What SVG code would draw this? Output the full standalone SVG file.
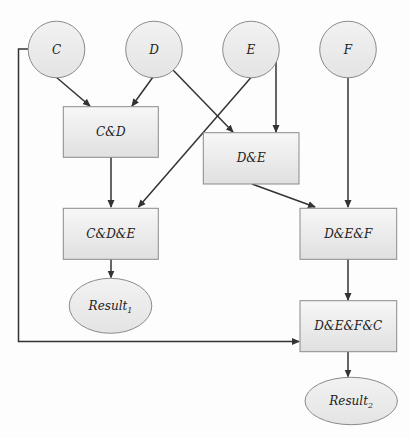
<svg xmlns="http://www.w3.org/2000/svg" width="410" height="438" viewBox="0 0 410 438">
<style>
.n{stroke:#8a8a8a;stroke-width:1}
.c{fill:url(#gc)}
.b{fill:url(#gb)}
text{font-family:'DejaVu Serif',serif;font-style:italic;font-size:12px;fill:#222;text-anchor:middle}
.e{fill:none;stroke:#333;stroke-width:1.5;marker-end:url(#ah)}
</style>
<defs>
<linearGradient id="gc" x1="0" y1="0" x2="0" y2="1"><stop offset="0" stop-color="#f2f2f2"/><stop offset="1" stop-color="#e4e4e4"/></linearGradient>
<linearGradient id="gb" x1="0" y1="0" x2="0" y2="1"><stop offset="0" stop-color="#f7f7f7"/><stop offset="1" stop-color="#e0e0e0"/></linearGradient>
<marker id="ah" markerWidth="8" markerHeight="8" refX="7" refY="4" orient="auto" markerUnits="userSpaceOnUse"><path d="M0,0.5 L8,4 L0,7.5 z" fill="#333"/></marker>
</defs>
<rect width="410" height="438" fill="#fdfdfd"/>
<g id="connectors">
<path class="e" d="M28,49 H18.5 V341.5 H299"/>
<path class="e" d="M56,77 L90,106"/>
<path class="e" d="M153,77 L132,106"/>
<path class="e" d="M173,70 L233,132"/>
<path class="e" d="M251,77.5 L138.5,207"/>
<path class="e" d="M276,61 V132"/>
<path class="e" d="M348,77 V207"/>
<path class="e" d="M111,157 V207"/>
<path class="e" d="M252,184 L315,207"/>
<path class="e" d="M111,259 V277.5"/>
<path class="e" d="M348,259 V300"/>
<path class="e" d="M348,352 V376.5"/>
</g>
<g id="C"><circle class="n c" cx="56.5" cy="49.5" r="28.3"/><text x="56.5" y="54">C</text></g>
<g id="D"><circle class="n c" cx="154" cy="49.5" r="28.3"/><text x="154" y="54">D</text></g>
<g id="E"><circle class="n c" cx="251" cy="49.5" r="28.3"/><text x="251" y="54">E</text></g>
<g id="F"><circle class="n c" cx="348" cy="49.5" r="28.3"/><text x="348" y="54">F</text></g>
<g id="CD"><rect class="n b" x="63.3" y="106.7" width="95" height="50.6"/><text x="110.8" y="136">C&amp;D</text></g>
<g id="DE"><rect class="n b" x="203.3" y="132.7" width="95.7" height="51.3"/><text x="251.2" y="162">D&amp;E</text></g>
<g id="CDE"><rect class="n b" x="63.3" y="208.3" width="95" height="51"/><text x="110.8" y="238">C&amp;D&amp;E</text></g>
<g id="DEF"><rect class="n b" x="300" y="208.3" width="96.7" height="51"/><text x="348.3" y="238">D&amp;E&amp;F</text></g>
<g id="DEFC"><rect class="n b" x="300" y="300.7" width="96.7" height="51"/><text x="348.3" y="330">D&amp;E&amp;F&amp;C</text></g>
<g id="Result1"><ellipse class="n c" cx="110.5" cy="305.8" rx="41.3" ry="27.5"/><text x="110.5" y="310">Result<tspan font-size="8" dy="3">1</tspan></text></g>
<g id="Result2"><ellipse class="n c" cx="351.2" cy="401" rx="46.2" ry="23.7"/><text x="351.2" y="405">Result<tspan font-size="8" dy="3">2</tspan></text></g>
</svg>
